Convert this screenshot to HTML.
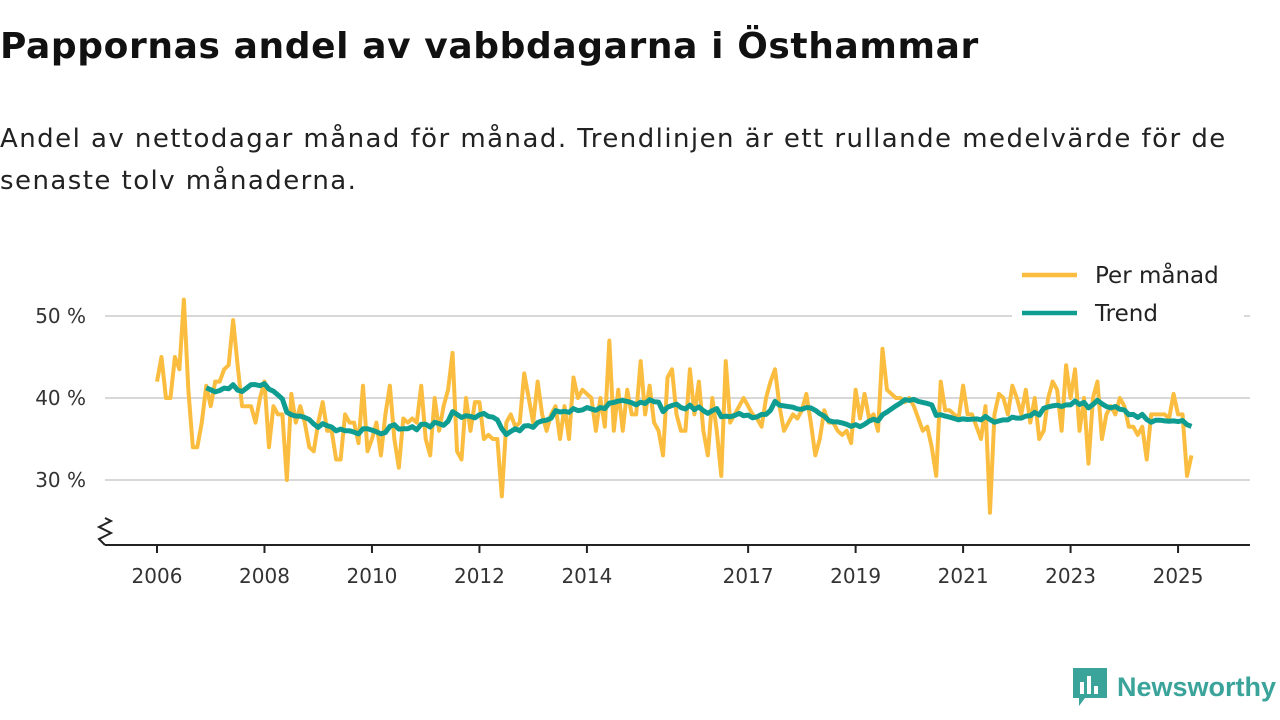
<!DOCTYPE html>
<html><head><meta charset="utf-8"><style>
body{margin:0;width:1280px;height:720px;background:#fff;font-family:"Liberation Sans","DejaVu Sans",sans-serif;overflow:hidden;position:relative}
h1{position:absolute;left:0;top:26px;margin:0;font-family:"DejaVu Sans",sans-serif;font-size:36px;font-weight:bold;color:#111;letter-spacing:0.6px;white-space:nowrap}
p{position:absolute;left:0;top:118px;margin:0;font-family:"DejaVu Sans",sans-serif;font-size:26px;line-height:42px;color:#222;width:1280px;white-space:nowrap;letter-spacing:1.45px}
</style></head><body>
<h1>Pappornas andel av vabbdagarna i Östhammar</h1>
<p>Andel av nettodagar månad för månad. Trendlinjen är ett rullande medelvärde för de<br>senaste tolv månaderna.</p>
<svg id="chart" width="1280" height="720" style="position:absolute;left:0;top:0"></svg>
<div style="position:absolute;left:1073px;top:668px;display:flex;align-items:center">
<svg width="34" height="38"><path d="M0 0h34v30h-22l-6 8v-8h-6z" fill="#3aa39a"/><rect x="7" y="14" width="4" height="12" fill="#fff"/><rect x="14" y="8" width="4" height="18" fill="#fff"/><rect x="21" y="18" width="4" height="8" fill="#fff"/></svg>
<span style="font-size:27px;font-weight:bold;color:#3aa39a;margin-left:10px">Newsworthy</span></div>
<script>
const years=[2006,2008,2010,2012,2014,2017,2019,2021,2023,2025];
const yTicks=[30,40,50];
const monthly=[
42,45,40,40,45,43.5,52,41,34,34,37,41.5,
39,42,42,43.5,44,49.5,44,39,39,39,37,40,
42,34,39,38,38,30,40.5,37,39,37,34,33.5,
37,39.5,36,36,32.5,32.5,38,37,37,34.5,41.5,33.5,
35,37,33,38,41.5,35,31.5,37.5,37,37.5,37,41.5,
35,33,40,36,39,41,45.5,33.5,32.5,40,36,39.5,
39.5,35,35.5,35,35,28,37,38,36.5,37,43,40,
37,42,38,36,38,39,35,39,35,42.5,40,41,
40.5,40,36,40,36.5,47,36,41,36,41,38,38,
44.5,38,41.5,37,36,33,42.5,43.5,38,36,36,43.5,
38,42,36,33,40,36,30.5,44.5,37,38,39,40,
39,38,37.5,36.5,40,42,43.5,39,36,37,38,37.5,
38.5,40.5,37,33,35,38.5,37,37,36,35.5,36,34.5,
41,37.5,40.5,37.5,38,36,46,41,40.5,40,40,39.5,
40,39,37.5,36,36.5,34,30.5,42,38.5,38.5,38,37.5,
41.5,38,38,36.5,35,39,26,38,40.5,40,38,41.5,
40,38,41,37,40,35,36,40,42,41,36,44,
40,43.5,36,40,32,40,42,35,38,39,38,40,
39,36.5,36.5,35.5,36.5,32.5,38,38,38,38,37.5,40.5,
38,38,30.5,33];
const NS="http://www.w3.org/2000/svg",svg=document.getElementById('chart');
const x=t=>157+(t-2006)*53.74, y=v=>398-(v-40)*8.2;
function mk(tag,attrs,parent){const e=document.createElementNS(NS,tag);for(const k in attrs)e.setAttribute(k,attrs[k]);(parent||svg).appendChild(e);return e;}
yTicks.forEach(v=>{
 const g=mk('line',{x1:105,x2:1250,y1:y(v),y2:y(v),stroke:'#d8d8d8','stroke-width':2});
 
 
 const t=mk('text',{x:86,y:y(v)+7,'text-anchor':'end','font-size':20,'font-family':'DejaVu Sans, sans-serif',fill:'#333'});t.textContent=v+' %';
 
 
});
const ax=mk('path',{d:'M105 545H1250 M105 545 l-6 -6 l12 -6 l-12 -6 l12 -6 l-6 -3',fill:'none',stroke:'#222','stroke-width':2});


years.forEach(yr=>{
 const tk=mk('line',{x1:x(yr),x2:x(yr),y1:545,y2:553,stroke:'#222','stroke-width':2});
 
 
 const t=mk('text',{x:x(yr),y:583,'text-anchor':'middle','font-size':20,'font-family':'DejaVu Sans, sans-serif',fill:'#333'});t.textContent=yr;
 
 
});
const tm=i=>2006+i/12;
const l1=mk('polyline',{points:monthly.map((v,i)=>x(tm(i))+','+y(v)).join(' '),fill:'none',stroke:'#fbbd3f','stroke-width':4,'stroke-linejoin':'round'});


const trend=[];
for(let i=11;i<monthly.length;i++){let s=0;for(let j=i-11;j<=i;j++)s+=monthly[j];trend.push(x(tm(i))+','+y(s/12));}
const l2=mk('polyline',{points:trend.join(' '),fill:'none',stroke:'#0f9d92','stroke-width':5,'stroke-linejoin':'round'});


const bg=mk('rect',{x:1012,y:262,width:232,height:68,fill:'#fff'});


[['Per månad','#fbbd3f',275],['Trend','#0f9d92',313]].forEach(([n,c,yy])=>{
 const l=mk('line',{x1:1022,x2:1077,y1:yy,y2:yy,stroke:c,'stroke-width':4.5});
 
 
 const t=mk('text',{x:1095,y:yy+8,'font-size':23,'font-family':'DejaVu Sans, sans-serif',fill:'#222'});t.textContent=n;
 
 
});
</script>
</body></html>
